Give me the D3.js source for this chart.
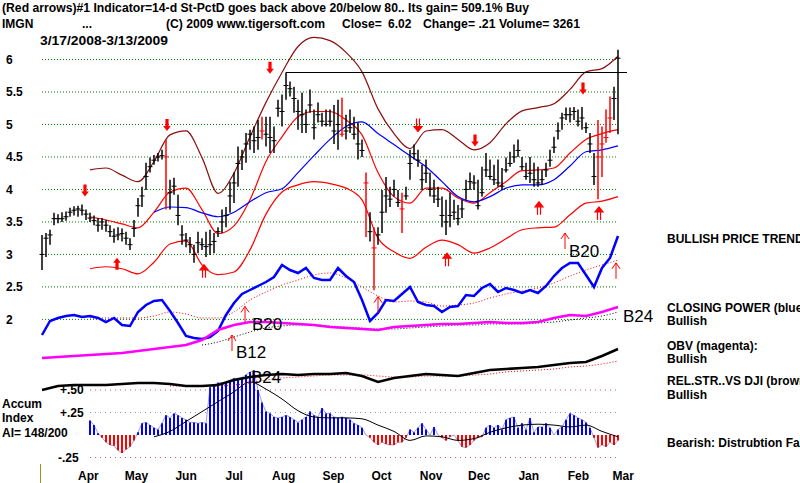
<!DOCTYPE html>
<html>
<head>
<meta charset="utf-8">
<script src="https://cdn.jsdelivr.net/npm/d3@7"></script>
<style>
  body { margin: 0; background: #fff; }
  svg { display: block; font-family: "Liberation Sans", Arial, sans-serif; }
</style>
</head>
<body>
<div id="svg-area"></div>
<script>
// Price bars, one bar for about every 1.7 trading days (3/17/2008 - 3/13/2009)
var barHigh = [
  3.3, 3.33, 3.38, 3.64, 3.62, 3.65, 3.66, 3.72, 3.74, 3.75,
  3.77, 3.69, 3.64, 3.6, 3.56, 3.56, 3.53, 3.45, 3.4, 3.42,
  3.4, 3.35, 3.25, 3.53, 3.87, 4.04, 4.41, 4.49, 4.53, 4.56,
  4.61, 4.77, 4.15, 4.18, 3.92, 3.45, 3.33, 3.27, 3.15, 3.35,
  3.25, 3.35, 3.38, 3.33, 3.42, 3.69, 3.73, 4.12, 4.26, 4.66,
  4.61, 4.87, 4.92, 4.97, 5.07, 5.12, 5.12, 5.12, 4.97, 5.38,
  5.46, 5.8, 5.66, 5.58, 5.38, 5.49, 5.23, 5.54, 5.23, 5.34,
  5.18, 5.23, 5.23, 5.3, 5.38, 5.41, 5.15, 5.23, 5.12, 5.03,
  4.77, 4.26, 3.65, 3.42, 3.42, 3.99, 4.19, 4.04, 4.15, 3.99,
  3.95, 4.04, 4.61, 4.69, 4.61, 4.38, 4.46, 4.26, 4.15, 4.04,
  3.89, 3.84, 3.95, 3.84, 3.76, 3.84, 4.15, 4.26, 4.22, 4.15,
  4.35, 4.56, 4.46, 4.38, 4.46, 4.33, 4.49, 4.58, 4.69, 4.77,
  4.5, 4.41, 4.5, 4.41, 4.35, 4.3, 4.41, 4.61, 4.81, 5.03,
  5.18, 5.26, 5.26, 5.27, 5.23, 5.27, 5.03, 4.87, 4.56, 5.07,
  4.97, 5.23, 5.43, 5.58, 6.15
];
var barLow = [
  2.76, 2.96, 3.15, 3.45, 3.48, 3.5, 3.52, 3.58, 3.6, 3.58,
  3.6, 3.53, 3.5, 3.45, 3.35, 3.38, 3.35, 3.27, 3.18, 3.22,
  3.2, 3.15, 3.07, 3.27, 3.58, 3.73, 3.99, 4.26, 4.38, 4.43,
  4.46, 3.69, 3.69, 3.92, 3.45, 3.15, 3.11, 3.02, 2.87, 3.02,
  3.07, 2.96, 2.99, 3.02, 3.27, 3.33, 3.42, 3.64, 3.79, 4.04,
  4.3, 4.41, 4.61, 4.56, 4.61, 4.77, 4.66, 4.56, 4.56, 5.12,
  4.97, 5.38, 5.43, 5.18, 4.92, 4.87, 4.87, 5.18, 4.77, 5.03,
  4.97, 4.97, 4.97, 4.7, 4.61, 4.81, 4.77, 4.87, 4.77, 4.46,
  4.5, 3.27, 3.2, 2.45, 3.15, 3.33, 3.64, 3.73, 3.89, 3.73,
  3.33, 3.84, 4.15, 4.46, 4.35, 3.99, 4.1, 3.89, 3.79, 3.73,
  3.42, 3.3, 3.42, 3.53, 3.45, 3.56, 3.84, 3.99, 3.99, 3.69,
  3.89, 4.19, 4.15, 4.07, 4.04, 3.99, 4.26, 4.35, 4.41, 4.5,
  4.3, 4.15, 4.1, 4.04, 4.04, 4.07, 4.19, 4.35, 4.56, 4.77,
  4.92, 5.07, 5.03, 5.07, 4.97, 4.92, 4.87, 4.56, 4.07, 3.85,
  4.19, 4.72, 4.87, 5.07, 4.85
];
var barClose = [
  3.0, 3.25, 3.3, 3.55, 3.55, 3.55, 3.58, 3.65, 3.68, 3.7,
  3.68, 3.62, 3.56, 3.52, 3.45, 3.5, 3.45, 3.35, 3.28, 3.3,
  3.32, 3.25, 3.15, 3.4, 3.75, 3.9, 4.2, 4.35, 4.45, 4.5,
  4.52, 4.5, 3.95, 4.05, 3.6, 3.3, 3.22, 3.15, 3.0, 3.18,
  3.15, 3.12, 3.15, 3.2, 3.35, 3.5, 3.6, 3.9, 4.1, 4.4,
  4.5, 4.7, 4.85, 4.75, 4.8, 4.9, 4.85, 4.8, 4.75, 5.25,
  5.2, 5.6, 5.55, 5.4, 5.2, 5.15, 5.0, 5.3, 4.95, 5.15,
  5.05, 5.0, 5.05, 4.9, 5.0, 4.85, 4.9, 4.95, 4.85, 4.7,
  4.6, 4.1, 3.35, 3.1, 3.3, 3.65, 3.9, 3.85, 4.0, 3.8,
  3.7, 3.9, 4.4, 4.55, 4.45, 4.15, 4.25, 4.0, 3.9, 3.85,
  3.6, 3.5, 3.6, 3.65, 3.55, 3.7, 4.0, 4.12, 4.1, 3.75,
  3.95, 4.3, 4.2, 4.15, 4.1, 4.05, 4.3, 4.4, 4.5, 4.6,
  4.35, 4.2, 4.25, 4.15, 4.1, 4.15, 4.3, 4.45, 4.65, 4.9,
  5.1, 5.15, 5.15, 5.2, 5.05, 5.1, 4.95, 4.7, 4.2, 4.5,
  4.7, 4.8, 5.1, 5.4, 6.02
];
// bars drawn in red
var redBars = [31, 55, 75, 81, 83, 90, 139, 140, 141, 142];

// Bands, sampled every 4th bar (null = not drawn yet)
var upperBand = [null, null, null, 4.30, 4.33, 4.22, 4.12, 4.43, 4.84, 4.90,
  4.49, 3.94, 4.25, 4.81, 5.34, 5.80, 6.20, 6.34, 6.29, 6.11,
  5.81, 5.24, 4.86, 4.63, 4.90, 4.92, 4.77, 4.61, 4.72, 5.01,
  5.21, 5.26, 5.32, 5.54, 5.81, 5.86, 6.05];
var midBand = [null, null, null, 3.58, 3.53, 3.47, 3.41, 3.65, 3.96, 4.02,
  3.69, 3.32, 3.44, 3.84, 4.43, 4.81, 5.12, 5.20, 5.20, 5.07,
  4.84, 4.26, 3.89, 3.79, 4.02, 4.02, 3.87, 3.79, 3.95, 4.12,
  4.29, 4.30, 4.33, 4.56, 4.77, 4.86, 4.92];
var maLine = [null, null, null, null, null, null, null, 3.65, 3.73, 3.72,
  3.64, 3.58, 3.65, 3.81, 3.95, 4.01, 4.26, 4.52, 4.77, 4.97,
  5.04, 4.86, 4.69, 4.52, 4.35, 4.12, 3.89, 3.81, 3.89, 4.02,
  4.07, 4.07, 4.15, 4.36, 4.58, 4.61, 4.67];
var lowerBand = [null, null, null, 2.78, 2.81, 2.78, 2.70, 2.88, 3.16, 3.21,
  2.84, 2.69, 2.73, 3.07, 3.62, 3.96, 4.07, 4.12, 4.09, 4.02,
  3.84, 3.25, 3.04, 2.94, 3.11, 3.22, 3.15, 3.02, 3.10, 3.24,
  3.38, 3.41, 3.42, 3.61, 3.79, 3.82, 3.89];

// Closing power, sampled every 2nd bar
var closingPower = [-5, 9, 12, 14, 15, 13, 14, 12, 8, 12,
  5, 4, 18, 25, 29, 30, 19, 7, -6, -8,
  -9, -7, -1, 15, 27, 36, 40, 44, 48, 53,
  65, 60, 57, 62, 52, 50, 50, 62, 54, 48,
  30, 9, 17, 30, 29, 36, 43, 28, 25, 24,
  18, 23, 24, 35, 34, 42, 46, 38, 42, 40,
  37, 40, 37, 44, 54, 62, 67, 67, 55, 43,
  62, 72, 94];
// every 4th bar
var closingPowerMA = [null, null, null, 12, 12, 12, 12, 14, 18, 16,
  12, 12, 18, 30, 38, 45, 50, 55, 57, 52,
  43, 34, 28, 29, 28, 24, 25, 27, 32, 36,
  39, 42, 47, 54, 60, 65, 70];
var obv = [-28, -27, -26, -25, -24, -23, -21, -19, -17, -15,
  -10, 0, 5, 8, 8, 7, 6, 5, 3, 2,
  1, 0, 3, 4, 5, 6, 6, 7, 8, 7,
  7, 8, 12, 15, 14, 18, 23];
var obvMA = [null, null, null, null, null, null, null, null, null, null,
  -15, -12, -7, -2, 2, 4, 5, 5, 4, 3,
  2, 1, 1, 2, 3, 4, 5, 5, 6, 6,
  6, 7, 8, 10, 12, 14, 18];
var relStrength = [-60, -56, -55, -55, -55, -54, -53, -53, -54, -56,
  -56, -55, -50, -47, -45, -44, -45, -44, -44, -43,
  -46, -52, -48, -46, -44, -45, -46, -43, -40, -39,
  -38, -37, -35, -33, -32, -26, -19];
var relStrengthMA = [null, null, null, null, null, null, null, null, -56, -56,
  -56, -56, -55, -53, -50, -48, -47, -46, -45, -45,
  -45, -46, -47, -47, -46, -46, -46, -45, -44, -42,
  -41, -40, -39, -37, -36, -34, -31];

// Accumulation index, one value per bar from bar 12 on
var accumIndex = [0.16, 0.11, 0.02,
  -0.03, -0.08, -0.11, -0.12, -0.17, -0.2, -0.16, -0.13, -0.06, 0.03,
  0.13, 0.14, 0.11, 0.08, 0.06, 0.13, 0.22, 0.19, 0.24, 0.22,
  0.19, 0.17, 0.14, 0.14, 0.13, 0.14, 0.13, 0.53, 0.56, 0.58,
  0.58, 0.59, 0.61, 0.63, 0.63, 0.64, 0.67, 0.7, 0.72, 0.5,
  0.36, 0.26, 0.24, 0.2, 0.19, 0.2, 0.22, 0.2, 0.17, 0.14,
  0.17, 0.2, 0.26, 0.22, 0.2, 0.3, 0.24, 0.24, 0.2, 0.19,
  0.2, 0.19, 0.17, 0.13, 0.11, 0.08, 0.0, -0.03, -0.08, -0.11,
  -0.08, -0.1, -0.11, -0.11, -0.08,
  -0.08, -0.03, 0.06, 0.03, 0.08, 0.13, 0.06, 0.0, 0.09, 0.0,
  -0.03, -0.06, -0.02, 0, -0.06, -0.13, -0.14, -0.11, -0.06, -0.03,
  -0.02, 0.08, 0.11, 0.08, 0.11, 0.06, 0.17, 0.19, 0.2, 0.08,
  0.13, 0.06, 0.19, 0.03, 0.09, 0.09, 0.13, 0.08, 0, 0.06,
  0.09, 0.17, 0.24, 0.22, 0.19, 0.17, 0.14, 0.08, -0.03, -0.14,
  -0.11, -0.13, -0.08, -0.11, -0.06];
var accumIndexStart = 12;
// every 4th bar
var accumIndexMA = [null, null, null, null, null, null, null, -0.02, 0.04, 0.15,
  0.26, 0.37, 0.48, 0.59, 0.51, 0.40, 0.27, 0.2, 0.19, 0.19,
  0.18, 0.11, 0.04, -0.06, -0.01, -0.02, -0.06, -0.04, 0.03, 0.08,
  0.11, 0.12, 0.11, 0.09, 0.11, 0.04, -0.02];

// Signal arrows (bar position, price at the tip)
var downArrowBar = [10.75, 31.25, 57, 94, 108.25, 135.25];
var downArrowPrice = [3.89, 4.9, 5.78, 4.89, 4.66, 5.46];
var downArrowDouble = [false, false, false, true, false, false];
var upArrowBar = [18.75, 40.5, 101.25, 124.25, 139.25];
var upArrowPrice = [2.95, 2.84, 3.02, 3.81, 3.73];
var upArrowDouble = [false, true, true, true, true];
var thinArrowBar = [47.5, 50.75, 84, 130.75, 143.5];
var thinArrowPrice = [1.76, 2.2, 2.35, 3.33, 2.87];

// Signal labels
var signalText = ["B20", "B12", "B24", "B20", "B24"];
var signalBar = [52.5, 48.5, 52.25, 131.75, 145.25];
var signalPrice = [1.84, 1.41, 1.02, 2.96, 1.96];

// Axis labels
var priceTicks = [6, 5.5, 5, 4.5, 4, 3.5, 3, 2.5, 2];
var priceTickLabels = ["6", "5.5", "5", "4.5", "4", "3.5", "3", "2.5", "2"];
var aiTicks = [0.5, 0.25, -0.25];
var aiTickLabels = ["+.50", "+.25", "-.25"];
var monthNames = ["Apr", "May", "Jun", "Jul", "Aug", "Sep", "Oct", "Nov", "Dec", "Jan", "Feb", "Mar"];

var svgWidth = 800;
var svgHeight = 483;

var svg = d3.select("#svg-area")
  .append("svg")
  .attr("width", svgWidth)
  .attr("height", svgHeight);

svg.append("rect").attr("width", svgWidth).attr("height", svgHeight).attr("fill", "#fff");

// Scales
var xBar = d3.scaleLinear().domain([0, 144]).range([42, 618]);
var xTime = d3.scaleTime()
  .domain([new Date(2008, 2, 17), new Date(2009, 2, 13)])
  .range([42, 620]);
var yPrice = d3.scaleLinear().domain([2, 6]).range([319.4, 59.5]);
var yInd = d3.scaleLinear().domain([0, 100]).range([330, 230]);
var yAI = d3.scaleLinear().domain([0, 0.25]).range([435, 412.5]);

function sampled(values, step) {
  return values.map(function(v, i) { return { k: i * step, v: v }; });
}

function lineFor(yScale, curve) {
  return d3.line()
    .defined(function(d) { return d.v != null; })
    .x(function(d) { return xBar(d.k); })
    .y(function(d) { return yScale(d.v); })
    .curve(curve || d3.curveMonotoneX);
}

// Price grid
svg.append("g").selectAll("line")
  .data(priceTicks)
  .enter().append("line")
  .attr("x1", 42).attr("x2", 617)
  .attr("y1", function(d) { return yPrice(d); })
  .attr("y2", function(d) { return yPrice(d); })
  .attr("stroke", "#008000")
  .attr("stroke-width", 1)
  .attr("stroke-dasharray", "1,2");

svg.append("g").selectAll("text")
  .data(priceTicks)
  .enter().append("text")
  .attr("x", 6)
  .attr("y", function(d) { return yPrice(d) + 4.5; })
  .attr("font-size", 12).attr("font-weight", "bold")
  .text(function(d, i) { return priceTickLabels[i]; });

// Accum index grid
svg.append("g").selectAll("line")
  .data(aiTicks)
  .enter().append("line")
  .attr("x1", 90).attr("x2", 617)
  .attr("y1", function(d) { return yAI(d); })
  .attr("y2", function(d) { return yAI(d); })
  .attr("stroke", function(d) { return d == 0.25 ? "#999" : "#d0508a"; })
  .attr("stroke-dasharray", "1,4");

svg.append("g").selectAll("text")
  .data(aiTicks)
  .enter().append("text")
  .attr("x", function(d) { return d < 0 ? 58 : 60; })
  .attr("y", function(d) { return yAI(d) + 4; })
  .attr("font-size", 12).attr("font-weight", "bold")
  .text(function(d, i) { return aiTickLabels[i]; });

// Accum index bars
var aiData = accumIndex.map(function(v, i) { return { k: i + accumIndexStart, v: v }; });
svg.append("g").selectAll("line")
  .data(aiData)
  .enter().append("line")
  .attr("x1", function(d) { return xBar(d.k); })
  .attr("x2", function(d) { return xBar(d.k); })
  .attr("y1", yAI(0))
  .attr("y2", function(d) { return yAI(d.v); })
  .attr("stroke", function(d) { return d.v >= 0 ? "#0000ff" : "#ff0000"; })
  .attr("stroke-width", 2);

svg.append("path")
  .datum(aiData)
  .attr("d", lineFor(yAI, d3.curveLinear))
  .attr("fill", "none")
  .attr("stroke", "#404080")
  .attr("stroke-width", 0.5);

svg.append("path")
  .datum(sampled(accumIndexMA, 4))
  .attr("d", lineFor(yAI))
  .attr("fill", "none").attr("stroke", "#000").attr("stroke-width", 1);

// Bands around price
svg.append("path").datum(sampled(upperBand, 4)).attr("d", lineFor(yPrice))
  .attr("fill", "none").attr("stroke", "#8b1010").attr("stroke-width", 1.2);
svg.append("path").datum(sampled(midBand, 4)).attr("d", lineFor(yPrice))
  .attr("fill", "none").attr("stroke", "#ff0000").attr("stroke-width", 1.2);
svg.append("path").datum(sampled(maLine, 4)).attr("d", lineFor(yPrice))
  .attr("fill", "none").attr("stroke", "#0000ff").attr("stroke-width", 1.2);
svg.append("path").datum(sampled(lowerBand, 4)).attr("d", lineFor(yPrice))
  .attr("fill", "none").attr("stroke", "#ff0000").attr("stroke-width", 1.2);

// Resistance line from the August high
var peakBar = d3.maxIndex(barHigh.slice(0, 140));
svg.append("line")
  .attr("x1", xBar(peakBar)).attr("x2", xBar(144) + 9)
  .attr("y1", yPrice(barHigh[peakBar])).attr("y2", yPrice(barHigh[peakBar]))
  .attr("stroke", "#000").attr("stroke-width", 1.2);

// Price bars
var bars = barHigh.map(function(h, i) {
  return { k: i, h: h, l: barLow[i], c: barClose[i], red: redBars.indexOf(i) >= 0 };
});
var barG = svg.append("g").selectAll("g")
  .data(bars)
  .enter().append("g")
  .attr("stroke", function(d) { return d.red ? "#ff0000" : "#000"; });
barG.append("line")
  .attr("x1", function(d) { return xBar(d.k); })
  .attr("x2", function(d) { return xBar(d.k); })
  .attr("y1", function(d) { return yPrice(d.h); })
  .attr("y2", function(d) { return yPrice(d.l); })
  .attr("stroke-width", 1.5);
barG.append("line")
  .attr("x1", function(d) { return xBar(d.k) - 2.5; })
  .attr("x2", function(d) { return xBar(d.k) + 2.5; })
  .attr("y1", function(d) { return yPrice(d.c); })
  .attr("y2", function(d) { return yPrice(d.c); })
  .attr("stroke-width", 1);

// Indicators in the lower half of the price area
svg.append("path").datum(sampled(closingPowerMA, 4)).attr("d", lineFor(yInd))
  .attr("fill", "none").attr("stroke", "#ff0000").attr("stroke-width", 1)
  .attr("stroke-dasharray", "1,2");
svg.append("path").datum(sampled(obvMA, 4)).attr("d", lineFor(yInd))
  .attr("fill", "none").attr("stroke", "#000").attr("stroke-width", 1)
  .attr("stroke-dasharray", "1,2");
svg.append("path").datum(sampled(relStrengthMA, 4)).attr("d", lineFor(yInd))
  .attr("fill", "none").attr("stroke", "#ff0000").attr("stroke-width", 1)
  .attr("stroke-dasharray", "1,2");
svg.append("path").datum(sampled(closingPower, 2)).attr("d", lineFor(yInd, d3.curveLinear))
  .attr("fill", "none").attr("stroke", "#0000ff").attr("stroke-width", 2.5);
svg.append("path").datum(sampled(obv, 4)).attr("d", lineFor(yInd, d3.curveLinear))
  .attr("fill", "none").attr("stroke", "#ff00ff").attr("stroke-width", 2.5);
svg.append("path").datum(sampled(relStrength, 4)).attr("d", lineFor(yInd, d3.curveLinear))
  .attr("fill", "none").attr("stroke", "#000").attr("stroke-width", 2.5);

// Arrows
function arrowPath(x, tip, dir) {
  // dir = 1 points down, -1 points up
  var s = dir;
  return "M" + (x - 1.6) + "," + (tip - 12 * s) +
    "L" + (x + 1.6) + "," + (tip - 12 * s) +
    "L" + (x + 1.6) + "," + (tip - 5 * s) +
    "L" + (x + 3.8) + "," + (tip - 5 * s) +
    "L" + x + "," + tip +
    "L" + (x - 3.8) + "," + (tip - 5 * s) +
    "L" + (x - 1.6) + "," + (tip - 5 * s) + "Z";
}
function doubleArrowPath(x, tip, dir) {
  var s = dir;
  return "M" + (x - 1.5) + "," + (tip - 13 * s) + "V" + (tip - 4 * s) +
    "M" + (x + 1.5) + "," + (tip - 13 * s) + "V" + (tip - 4 * s) +
    "M" + (x - 4) + "," + (tip - 5 * s) + "L" + x + "," + tip + "L" + (x + 4) + "," + (tip - 5 * s) + "Z";
}
function drawArrows(barPos, prices, doubles, dir) {
  barPos.forEach(function(b, i) {
    var x = xBar(b), tip = yPrice(prices[i]);
    if (doubles[i]) {
      svg.append("path").attr("d", doubleArrowPath(x, tip, dir))
        .attr("fill", "#ff0000").attr("stroke", "#ff0000").attr("stroke-width", 1.2);
    } else {
      svg.append("path").attr("d", arrowPath(x, tip, dir)).attr("fill", "#ff0000");
    }
  });
}
drawArrows(downArrowBar, downArrowPrice, downArrowDouble, 1);
drawArrows(upArrowBar, upArrowPrice, upArrowDouble, -1);

thinArrowBar.forEach(function(b, i) {
  var x = xBar(b), tip = yPrice(thinArrowPrice[i]);
  svg.append("path")
    .attr("d", "M" + x + "," + (tip + 16) + "V" + tip + "M" + (x - 4) + "," + (tip + 6) + "L" + x + "," + tip + "L" + (x + 4) + "," + (tip + 6))
    .attr("fill", "none").attr("stroke", "#ff0000").attr("stroke-width", 1);
});

// Signal labels
svg.append("g").selectAll("text")
  .data(signalText)
  .enter().append("text")
  .attr("x", function(d, i) { return xBar(signalBar[i]); })
  .attr("y", function(d, i) { return yPrice(signalPrice[i]); })
  .attr("font-size", 17)
  .attr("fill", "#000")
  .text(function(d) { return d; });

// Month labels, centred mid-month
var monthDates = d3.timeMonth.range(new Date(2008, 3, 1), new Date(2009, 3, 1))
  .map(function(d) { return d3.timeDay.offset(d, 14); });
svg.append("g").selectAll("text")
  .data(monthNames)
  .enter().append("text")
  .attr("x", function(d, i) { return xTime(monthDates[i]); })
  .attr("y", 480)
  .attr("text-anchor", "middle")
  .attr("font-size", 12).attr("font-weight", "bold")
  .text(function(d) { return d; });

svg.append("line")
  .attr("x1", 40.5).attr("x2", 40.5).attr("y1", 464).attr("y2", 483)
  .attr("stroke", "#a09020").attr("stroke-width", 1);

// Header
var head = svg.append("g").attr("font-size", 12).attr("font-weight", "bold");
head.append("text").attr("x", 2).attr("y", 12)
  .attr("textLength", 527).attr("lengthAdjust", "spacingAndGlyphs")
  .text("(Red arrows)#1 Indicator=14-d St-PctD goes back above 20/below 80.. Its gain= 509.1% Buy");
head.append("text").attr("x", 2).attr("y", 28).text("IMGN");
head.append("text").attr("x", 82).attr("y", 28).text("...");
head.append("text").attr("x", 166).attr("y", 28)
  .attr("textLength", 159).attr("lengthAdjust", "spacingAndGlyphs")
  .text("(C) 2009 www.tigersoft.com");
head.append("text").attr("x", 342).attr("y", 28).text("Close=");
head.append("text").attr("x", 388).attr("y", 28).text("6.02");
head.append("text").attr("x", 423).attr("y", 28)
  .attr("textLength", 157).attr("lengthAdjust", "spacingAndGlyphs")
  .text("Change= .21 Volume= 3261");
head.append("text").attr("x", 40).attr("y", 45)
  .attr("textLength", 128).attr("lengthAdjust", "spacingAndGlyphs")
  .text("3/17/2008-3/13/2009");

// Accum index caption
var cap = svg.append("g").attr("font-size", 12).attr("font-weight", "bold");
cap.append("text").attr("x", 2).attr("y", 408).text("Accum");
cap.append("text").attr("x", 2).attr("y", 422).text("Index");
cap.append("text").attr("x", 2).attr("y", 437).text("AI= 148/200");

// Right side verdicts (cut off by the right edge, as in the original)
var verdictText = ["BULLISH PRICE TREND", "CLOSING POWER (blue)", "Bullish", "OBV (magenta):", "Bullish",
  "REL.STR..VS DJI (brown)", "Bullish", "Bearish: Distrubtion Falling"];
var verdictY = [243, 312, 325, 350, 363, 385, 399, 447];
svg.append("g").selectAll("text")
  .data(verdictText)
  .enter().append("text")
  .attr("x", 667)
  .attr("y", function(d, i) { return verdictY[i]; })
  .attr("font-size", 12).attr("font-weight", "bold")
  .text(function(d) { return d; });
</script>
</body>
</html>
